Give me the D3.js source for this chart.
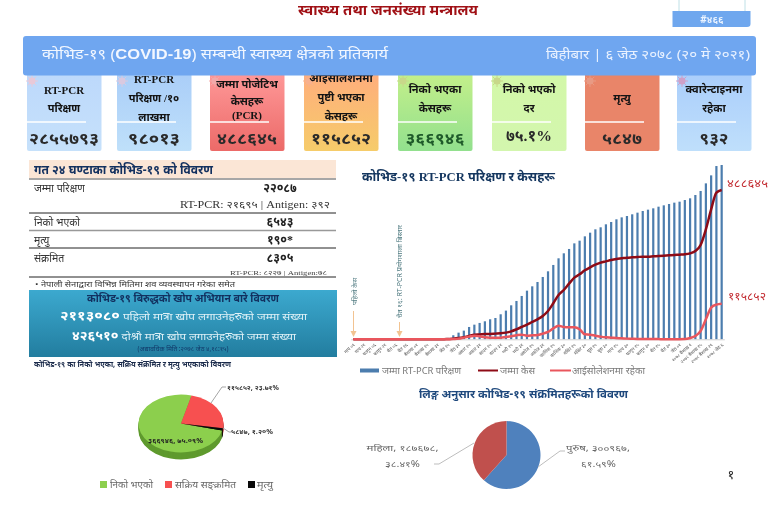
<!DOCTYPE html>
<html><head><meta charset="utf-8">
<script src="https://cdn.jsdelivr.net/npm/d3@7/dist/d3.min.js"></script>
<style>html,body{margin:0;padding:0;background:#fff}svg{display:block;filter:blur(0.35px)}text{font-family:"Noto Sans","Noto Sans Devanagari",sans-serif}</style>
</head><body><svg id="c" width="779" height="517"></svg>
<script>
// ---------- data ----------
const cardTitles=[["RT-PCR","परिक्षण"],["RT-PCR","परिक्षण /१०","लाखमा"],["जम्मा पोजेटिभ","केसहरू","(PCR)"],["आइसोलेशनमा","पुष्टी भएका","केसहरू"],["निको भएका","केसहरू"],["निको भएको","दर"],["मृत्यु"],["क्वारेन्टाइनमा","रहेका"]];
const cardValues=["२८५५७९३","९८०१३","४८८६४५","११५८५२","३६६९४६","७५.१%","५८४७","९३२"];
const tickLabels=["माघ ०९","माघ २१","फागुन ०६","फागुन २१","चैत ०६","चैत १६","बैशाख ०१","बैशाख १५","बैशाख ३१","जेठ १५","जेठ ३१","असार १५","असार ३१","साउन १५","साउन ३१","भदौ १५","भदौ ३१","असोज १५","असोज ३१","कात्तिक १५","कात्तिक ३०","मंसिर १५","मंसिर ३०","पुस १५","पुस ३०","माघ १५","माघ ३०","फागुन १५","फागुन ३०","चैत १५","चैत ३०","जेठ ०१","२०७८ बैशाख १","२०७८ बैशाख १५","२०७८ बैशाख २९","२०७८ जेठ ६"];
const leadingZeros=[0,0,0,0,0,0,0,0,0,0,0,0,0,0,0,0,0];
const pcrTests=leadingZeros.concat([11000,22000,66000,109000,142000,202000,240000,268000,295000,328000,
349000,410000,470000,557000,628000,710000,797000,868000,939000,1021000,
1114000,1218000,1327000,1409000,1480000,1572000,1616000,1687000,1747000,1802000,
1835000,1884000,1922000,1966000,1998000,2020000,2048000,2075000,2102000,2124000,
2146000,2173000,2195000,2217000,2239000,2255000,2282000,2310000,2364000,2430000,
2555000,2686000,2839000,2855793]);
const totalCases=leadingZeros.concat([0,1000,2000,4000,7000,11000,15000,16000,17000,17500,
18500,19500,21700,26000,32600,40200,47800,56500,65200,76000,
92300,117300,144400,160700,181400,200900,211800,224800,234600,243300,
249800,254100,258500,261700,263900,266100,267200,268200,269300,269300,
270400,271500,272600,273700,274800,275800,276900,280200,287800,307300,
358400,423500,477800,486645]);
const isolation=leadingZeros.concat([0,0,1000,2200,5400,8700,11900,9800,6500,5400,
5400,5400,7600,9800,13000,15200,11900,13000,14100,18500,
23900,35800,44500,40200,39100,39100,32600,16300,15200,11900,
8700,6500,5400,4300,3300,2200,1600,1100,900,800,
700,600,500,500,500,500,1000,4300,10900,27100,
65200,103200,113000,115852]);
const outcomeNames=["निको भएको","सक्रिय सङ्क्रमित","मृत्यु"];
const outcomeValues=[366946,115852,5847];
const genderNames=["पुरुष","महिला"];
const genderValues=[300967,187678];

// ---------- layout ----------
const SERIF='"Liberation Serif","Noto Sans","Noto Sans Devanagari",serif';
const svg=d3.select("#c");
const defs=svg.append("defs");
function T(x,y,s,o={}){
  const t=svg.append("text").attr("x",x).attr("y",y).text(s)
   .attr("font-size",o.size||10).attr("fill",o.fill||"#222")
   .attr("font-weight",o.bold?700:400).attr("text-anchor",o.anchor||"start");
  if(o.family) t.style("font-family",o.family);
  if(o.rotate) t.attr("transform",`rotate(${o.rotate} ${x} ${y})`);
  if(o.len) t.attr("textLength",o.len).attr("lengthAdjust","spacingAndGlyphs");
  return t;
}
function grad(id,a,b){const g=defs.append("linearGradient").attr("id",id).attr("x1",0).attr("y1",0).attr("x2",0).attr("y2",1);
  g.append("stop").attr("offset",0).attr("stop-color",a);g.append("stop").attr("offset",1).attr("stop-color",b);return `url(#${id})`;}
function L(x1,y1,x2,y2,c,w){svg.append("line").attr("x1",x1).attr("y1",y1).attr("x2",x2).attr("y2",y2).attr("stroke",c).attr("stroke-width",w);}

// header
T(388,15,"स्वास्थ्य तथा जनसंख्या मन्त्रालय",{size:14,bold:true,fill:"#a01015",anchor:"middle",len:180});
svg.append("path").attr("d","M679 0V11M745 0V11").attr("stroke","#bfe0e6").attr("fill","none");
svg.append("path").attr("d","M672.5 11H750.5V24Q750.5 27 747 27H672.5Z").attr("fill","#6fa7ee");
T(712,23,"#४६६",{size:10,bold:true,fill:"#eaf3ff",anchor:"middle"});

// cards
const cardX=[27,117,210,304,398,492,585,677];
const cardGrad=[["#bcd8fb","#c6e1fb"],["#a9cdf8","#bfe0fa"],["#ff9a9a","#ec6a68"],["#ffac7d","#f6cc6a"],["#c6f08a","#92e08e"],["#d3f8a8","#d3f6ae"],["#e98569","#e98569"],["#a9cdfb","#bfdffb"]];
const titleY=[[91,109],[80,99,118],[85,102,116],[79,98,117],[90,109],[90,109],[99],[90,109]];
const valueLen=[70,52,60,60,59,46,40,29];
const virus=["#e8c9d8","#d9c9e0","#f3a9a9","#f7b08e","#c8d88a","#c8d88a","#e89a84","#cfa0c8"];
cardX.forEach((x,i)=>{
  svg.append("rect").attr("x",x).attr("y",70).attr("width",74.5).attr("height",81).attr("rx",2).attr("fill",grad("cg"+i,cardGrad[i][0],cardGrad[i][1]));
  const v=svg.append("g").attr("transform",`translate(${x+5},81)`);
  d3.range(8).forEach(k=>{const a=k*Math.PI/4;v.append("line").attr("x2",6*Math.cos(a)).attr("y2",6*Math.sin(a)).attr("stroke",virus[i]).attr("stroke-width",1);});
  v.append("circle").attr("r",3.5).attr("fill",virus[i]);
  cardTitles[i].forEach((s,k)=>T(x+37,titleY[i][k]+3,s,{size:11,bold:true,fill:"#141414",anchor:"middle",family:SERIF}));
  L(x,122,x+59,122,"#fff",1.5);
  T(x+37,i==5?141:144,cardValues[i],{size:15.5,bold:true,fill:i==4?"#1f5a2a":"#2a2a2a",anchor:"middle",family:SERIF,len:valueLen[i]});
});

// banner
svg.append("rect").attr("x",23).attr("y",36).attr("width",733).attr("height",39.5).attr("rx",3).attr("fill","#6fa6f0");
const bt=T(42,59,"",{size:14.5,fill:"#f2f7ff"});
bt.append("tspan").text("कोभिड-१९  (");
bt.append("tspan").text("COVID-19").attr("font-weight",700).style("font-family",'"Liberation Sans",sans-serif');
bt.append("tspan").text(") सम्बन्धी स्वास्थ्य क्षेत्रको प्रतिकार्य");
bt.attr("textLength",346).attr("lengthAdjust","spacingAndGlyphs");
T(546,59,"बिहीबार | ६ जेठ २०७८ (२० मे २०२१)",{size:12,fill:"#e8f1ff",len:204});

// 24h table
svg.append("rect").attr("x",29).attr("y",160).attr("width",307).attr("height",18).attr("fill","#fbe6d6");
L(29,179,336,179,"#8a8a8a",1.5);
T(34,174,"गत २४ घण्टाका कोभिड-१९ को विवरण",{size:12,bold:true,fill:"#12305f",len:179});
[["जम्मा परिक्षण","२२०८७",192],["निको भएको","६५४३",226],["मृत्यु","१९०*",244],["संक्रमित","८३०५",262]].forEach(r=>{
  T(34,r[2],r[0],{size:10.5,fill:"#333"});
  T(280,r[2],r[1],{size:12,bold:true,fill:"#222",anchor:"middle",family:SERIF});
});
T(330,208,"RT-PCR: २१६९५ | Antigen: ३९२",{size:9.5,fill:"#333",anchor:"end",family:SERIF,len:150});
T(327,275,"RT-PCR: ८२२७ | Antigen:७८",{size:6.5,fill:"#444",anchor:"end",family:SERIF,len:97});
L(29,213,336,213,"#222",1);L(29,230.5,336,230.5,"#999",1.5);L(29,248,336,248,"#222",1);L(29,277,336,277,"#222",1);
T(35,287,"• नेपाली सेनाद्वारा विभिन्न मितिमा शव व्यवस्थापन गरेका समेत",{size:7.5,fill:"#333",len:200});

// vaccine box
svg.append("rect").attr("x",29).attr("y",290).attr("width",308).attr("height",67).attr("fill",grad("vg","#3ca9cf","#227d9f"));
T(183,302,"कोभिड-१९ बिरुद्धको खोप अभियान बारे विवरण",{size:11.5,bold:true,fill:"#12305f",anchor:"middle",len:192});
const v1=T(60,320,"",{size:10,fill:"#dff1f7"});
v1.append("tspan").text("२११३०८०").attr("font-size",13).attr("font-weight",700).attr("fill","#fff");
v1.append("tspan").text("  पहिलो मात्रा खोप लगाउनेहरुको जम्मा संख्या");
v1.attr("textLength",247).attr("lengthAdjust","spacingAndGlyphs");
const v2=T(72,340,"",{size:10,fill:"#dff1f7"});
v2.append("tspan").text("४२६५१०").attr("font-size",12).attr("font-weight",700).attr("fill","#fff");
v2.append("tspan").text(" दोश्रो मात्रा खोप लगाउनेहरुको जम्मा संख्या");
v2.attr("textLength",224).attr("lengthAdjust","spacingAndGlyphs");
T(183,351,"(अद्यावधिक मिति :२०७८ जेठ ४,१८:१५)",{size:6.5,fill:"#123a6a",anchor:"middle"});
T(34,367,"कोभिड-१९ का निको भएका, सक्रिय संक्रमित र मृत्यु भएकाको विवरण",{size:8,bold:true,fill:"#1a2a4a",len:197});

// main chart
const base=339.3;
const cats=d3.range(pcrTests.length);
const x=d3.scaleBand().domain(cats).range([350.7,724.3]).paddingInner(0.58).paddingOuter(0.29);
const cx=i=>x(i)+x.bandwidth()/2;
const yT=d3.scaleLinear().domain([0,3000000]).range([base,base-183.1]);
const yC=d3.scaleLinear().domain([0,500000]).range([base,base-153.4]);
svg.append("g").selectAll("rect").data(pcrTests).join("rect")
  .attr("x",(d,i)=>x(i)).attr("width",x.bandwidth()).attr("y",d=>yT(d)).attr("height",d=>base-yT(d)).attr("fill","#4c7dae");
const ax=svg.append("g").attr("transform",`translate(0,${base})`)
  .call(d3.axisBottom(x).tickValues(cats.filter(i=>i%2==0)).tickSize(0).tickFormat(i=>tickLabels[i/2]));
ax.select(".domain").attr("stroke","#d0d0d0");
ax.selectAll("text").attr("x",0).attr("y",0).attr("dy",0).attr("font-size",4.6).attr("fill","#555").attr("text-anchor","end").attr("transform","translate(2,6) rotate(-42)");
const line=s=>d3.line().x((d,i)=>cx(i)).y(d=>yC(d)).curve(d3.curveMonotoneX)(s);
svg.append("path").attr("d",line(totalCases)).attr("fill","none").attr("stroke","#8e0b16").attr("stroke-width",2.5);
svg.append("path").attr("d",line(isolation)).attr("fill","none").attr("stroke","#e9565d").attr("stroke-width",2.5);
T(362,181,"कोभिड-१९  RT-PCR परिक्षण र केसहरू",{size:12.5,bold:true,fill:"#14365f",family:SERIF,len:193});
T(727,187,"४८८६४५",{size:11,fill:"#c22a30",len:41,family:SERIF});
T(728,300,"११५८५२",{size:11,fill:"#c22a30",len:38,family:SERIF});
// annotations
[[353.5,311],[399.5,322]].forEach(a=>{
  L(a[0],a[1],a[0],334,"#f2c391",1);
  svg.append("path").attr("d",`M${a[0]-3} 331 L${a[0]+3} 331 L${a[0]} 337Z`).attr("fill","#f2c391");
});
T(357,305,"पहिलो केस",{size:6.5,fill:"#4f7a80",rotate:-90,len:27});
T(402,318,"चैत १६: RT-PCR प्रयोगशाला बिस्तार",{size:6.5,fill:"#4f7a80",rotate:-90,len:93});
// chart legend
svg.append("rect").attr("x",360).attr("y",368.5).attr("width",19).attr("height",4).attr("fill","#4c7dae");
T(382,374,"जम्मा RT-PCR परिक्षण",{size:9,fill:"#777",len:79});
L(478,370.5,498,370.5,"#8e0b16",2);T(500,374,"जम्मा केस",{size:9,fill:"#777",len:35});
L(550,370.5,571,370.5,"#e9565d",2);T(572,374,"आईसोलेशनमा रहेका",{size:9,fill:"#777",len:73});

// outcome pie (tilted)
const pieA=d3.pie().sort(null).startAngle(104*Math.PI/180).endAngle((104+360)*Math.PI/180)(outcomeValues);
const arc=d3.arc().innerRadius(0).outerRadius(42.5);
const colA=["#8ccf4d","#f75050","#0a0a0a"],colD=["#5f9a2e","#b83a3a","#000"];
[7,6,5,4,3,2,1].forEach(dy=>{
  svg.append("g").attr("transform",`translate(181,${423.5+dy}) scale(1,0.68)`)
   .selectAll("path").data(pieA).join("path").attr("d",arc).attr("fill",(d,i)=>colD[i]);
});
svg.append("g").attr("transform","translate(181,423.5) scale(1,0.68)")
  .selectAll("path").data(pieA).join("path").attr("d",arc).attr("fill",(d,i)=>colA[i]);
svg.append("path").attr("d","M211 403L222 387H226M223 428L229 432H231").attr("fill","none").attr("stroke","#a5a5a5");
T(227,390,"११५८५२, २३.७१%",{size:7,bold:true,fill:"#333",len:52});
T(231,434,"५८४७, १.२०%",{size:7,bold:true,fill:"#333",len:42});
T(148,443,"३६६९४६, ७५.०९%",{size:7,bold:true,fill:"#222",len:55});
const legX=[100,165,248],legTX=[110,175,257],legW=[43,61,16];
outcomeNames.forEach((n,i)=>{
  svg.append("rect").attr("x",legX[i]).attr("y",481).attr("width",7).attr("height",7).attr("fill",colA[i]);
  T(legTX[i],488,n,{size:9.5,fill:"#666",len:legW[i]});
});

// gender pie
T(523.5,398,"लिङ्ग अनुसार कोभिड-१९ संक्रमितहरूको विवरण",{size:11.5,bold:true,fill:"#1f497d",anchor:"middle",len:209});
const pieG=d3.pie().sort(null)(genderValues);
svg.append("g").attr("transform","translate(506.5,455)").selectAll("path").data(pieG).join("path")
  .attr("d",d3.arc().innerRadius(0).outerRadius(34)).attr("fill",(d,i)=>["#4f81bd","#c0504d"][i]);
svg.append("path").attr("d","M434 464H439L474 443M538 467L560 451H565").attr("fill","none").attr("stroke","#bdbdbd");
T(402.5,451,genderNames[1]+", १८७६७८,",{size:8.5,fill:"#666",anchor:"middle",len:72});
T(402.5,467,"३८.४१%",{size:8.5,fill:"#666",anchor:"middle",len:35});
T(598,451,genderNames[0]+", ३००९६७,",{size:8.5,fill:"#666",anchor:"middle",len:64});
T(598.5,467,"६१.५९%",{size:8.5,fill:"#666",anchor:"middle",len:35});
T(731,479,"१",{size:13,fill:"#222",anchor:"middle"});
</script></body></html>
